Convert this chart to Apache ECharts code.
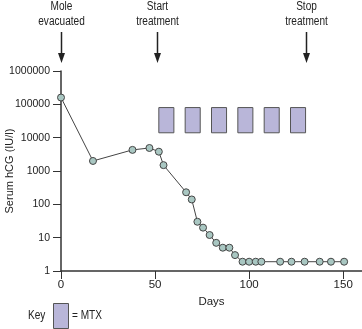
<!DOCTYPE html>
<html>
<head>
<meta charset="utf-8">
<script src="https://cdn.jsdelivr.net/npm/echarts@6/dist/echarts.min.js"></script>
<style>
  html, body { margin: 0; padding: 0; background: #fff; }
  #chart { width: 362px; height: 329px; }
</style>
</head>
<body>
<div id="chart"></div>
<script>
// Serum hCG after molar evacuation, with methotrexate (MTX) courses
const days = [0, 17, 38, 47, 52, 54.5, 66.5, 69.5, 72.5, 75.5, 79, 82.5, 86, 89.5, 92.5,
              96.5, 100, 103.5, 106.5, 116.5, 122.5, 129.5, 137.5, 143.5, 150.5];
const hcg = [160000, 2000, 4300, 4900, 3800, 1500, 230, 140, 30, 20, 12, 7, 5, 5, 3,
             1.9, 1.9, 1.9, 1.9, 1.9, 1.9, 1.9, 1.9, 1.9, 1.9];
const mtxStartDays = [52, 66, 80, 94, 108, 122];
const mtxCourseDays = 8;
const events = [
  { day: 0, label: 'Mole\nevacuated' },
  { day: 51, label: 'Start\ntreatment' },
  { day: 130, label: 'Stop\ntreatment' }
];
const xTicks = [0, 50, 100, 150];

const FONT = "'Liberation Sans', Arial, sans-serif";
const AXIS = '#333';
const TEXT = '#222';
const MTX_FILL = '#b9b6d9';
const MARKER_FILL = '#a9c7c2';
const NARROW = 0.84; // horizontal squeeze for annotation text

const chart = echarts.init(document.getElementById('chart'), null, { renderer: 'canvas' });

const points = days.map((d, i) => [d, hcg[i]]);
const mtx = mtxStartDays.map(d => [d, d + mtxCourseDays]);

chart.setOption({
  animation: false,
  grid: { left: 61, right: 0, top: 71, bottom: 58, containLabel: false, outerBoundsMode: 'none' },
  xAxis: {
    type: 'value', min: 0, max: 160,
    name: 'Days', nameLocation: 'middle', nameGap: 19,
    nameTextStyle: { fontFamily: FONT, fontSize: 11.5, color: TEXT },
    axisLine: { show: true, lineStyle: { color: AXIS, width: 1.5 } },
    axisTick: { show: true, length: 8, customValues: xTicks, lineStyle: { color: AXIS, width: 1 } },
    axisLabel: { customValues: xTicks, margin: 8, fontFamily: FONT, fontSize: 11.5, color: TEXT },
    splitLine: { show: false }
  },
  yAxis: {
    type: 'log', logBase: 10, min: 1, max: 1000000,
    name: 'Serum hCG (IU/l)', nameLocation: 'middle', nameGap: 46, nameMoveOverlap: false,
    nameTextStyle: { fontFamily: FONT, fontSize: 11, color: TEXT },
    axisLine: { show: true, lineStyle: { color: AXIS, width: 1.5 } },
    axisTick: { show: true, length: 8, lineStyle: { color: AXIS, width: 1 } },
    axisLabel: {
      margin: 11, fontFamily: FONT, fontSize: 10.5, color: TEXT,
      formatter: v => String(Math.round(v))
    },
    splitLine: { show: false }
  },
  series: [
    {
      type: 'custom',
      data: mtx,
      renderItem: function (params, api) {
        const tl = api.coord([api.value(0), 80000]);
        const br = api.coord([api.value(1), 14000]);
        return {
          type: 'rect',
          shape: { x: tl[0], y: tl[1], width: br[0] - tl[0], height: br[1] - tl[1] },
          style: { fill: MTX_FILL, stroke: '#555', lineWidth: 1 }
        };
      },
      z: 1
    },
    {
      type: 'line',
      data: points,
      symbol: 'circle',
      symbolSize: 7,
      lineStyle: { color: '#444', width: 1 },
      itemStyle: { color: MARKER_FILL, borderColor: '#444', borderWidth: 1 },
      z: 3
    }
  ]
});

// Event arrows, labels and key
const graphics = [];
events.forEach(ev => {
  const x = Math.round(chart.convertToPixel({ xAxisIndex: 0 }, ev.day)) + 0.5;
  graphics.push({
    type: 'text', x: x, y: -1, scaleX: NARROW,
    style: { text: ev.label, align: 'center', verticalAlign: 'top',
             font: '12px ' + FONT, fill: TEXT, lineHeight: 15 }
  });
  graphics.push({
    type: 'line',
    shape: { x1: x, y1: 32, x2: x, y2: 56 },
    style: { stroke: '#222', lineWidth: 1.5 }
  });
  graphics.push({
    type: 'polygon',
    shape: { points: [[x - 3.5, 53], [x + 3.5, 53], [x, 63]] },
    style: { fill: '#222' }
  });
});
graphics.push({
  type: 'text', x: 28, y: 316, scaleX: NARROW,
  style: { text: 'Key', font: '12px ' + FONT, fill: TEXT, verticalAlign: 'middle' }
});
graphics.push({
  type: 'rect', shape: { x: 53.5, y: 303.5, width: 15, height: 25 },
  style: { fill: MTX_FILL, stroke: '#555', lineWidth: 1 }
});
graphics.push({
  type: 'text', x: 72, y: 316, scaleX: NARROW,
  style: { text: '= MTX', font: '12px ' + FONT, fill: TEXT, verticalAlign: 'middle' }
});
chart.setOption({ graphic: graphics });
</script>
</body>
</html>
